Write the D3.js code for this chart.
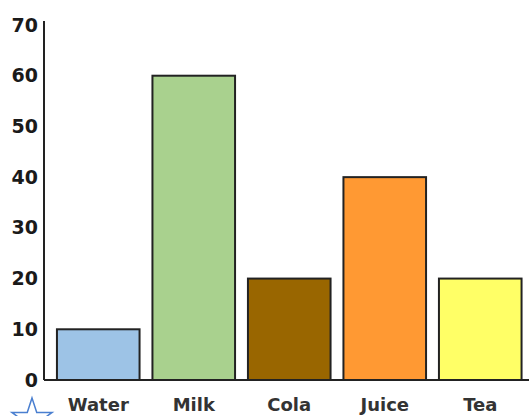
<!DOCTYPE html>
<html>
<head>
<meta charset="utf-8">
<script src="https://cdn.jsdelivr.net/npm/d3@7"></script>
<style>
  body { margin: 0; background: #fff; }
  svg { display: block; }
</style>
</head>
<body>
<svg></svg>
<script>
const drinks = ["Water", "Milk", "Cola", "Juice", "Tea"];
const counts = [10, 60, 20, 40, 20];
const barColors = ["#9dc3e6", "#a9d18e", "#996600", "#ff9933", "#ffff66"];
const yTicks = [0, 10, 20, 30, 40, 50, 60, 70];

const width = 529;
const height = 416;

const svg = d3.select("svg").attr("width", width).attr("height", height);

const x = d3
  .scaleBand()
  .domain(drinks)
  .range([50.5, 528])
  .paddingInner(0.135)
  .paddingOuter(0.0675);

const y = d3.scaleLinear().domain([0, 70]).range([380, 25]);

// bars
svg
  .append("g")
  .selectAll("rect")
  .data(drinks)
  .enter()
  .append("rect")
  .attr("x", (d) => x(d))
  .attr("y", (d, i) => y(counts[i]))
  .attr("width", x.bandwidth())
  .attr("height", (d, i) => y(0) - y(counts[i]))
  .attr("fill", (d, i) => barColors[i])
  .attr("stroke", "#222")
  .attr("stroke-width", 2);

// y axis
const yAxis = svg
  .append("g")
  .attr("transform", "translate(44,0)")
  .call(d3.axisLeft(y).tickValues(yTicks).tickSize(0).tickPadding(6));
yAxis.select(".domain").attr("stroke", "#222").attr("stroke-width", 2).attr("d", `M0,${y(70) - 4}V${y(0)}`);
yAxis
  .selectAll("text")
  .attr("font-family", "'DejaVu Sans', sans-serif")
  .attr("font-weight", "bold")
  .attr("font-size", 19)
  .attr("fill", "#1a1a1a");

// x axis
const xAxis = svg
  .append("g")
  .attr("transform", `translate(0,${y(0)})`)
  .call(d3.axisBottom(x).tickSize(0).tickPadding(18));
xAxis.select(".domain").attr("stroke", "#222").attr("stroke-width", 2).attr("d", `M44,0H${width}`);
xAxis
  .selectAll("text")
  .attr("font-family", "'DejaVu Sans', sans-serif")
  .attr("font-weight", "bold")
  .attr("font-size", 18)
  .attr("fill", "#333");

// little star in the corner
const star = d3.symbol().type(d3.symbolStar).size(500);
svg
  .append("path")
  .attr("d", star())
  .attr("transform", "translate(32,419)")
  .attr("fill", "none")
  .attr("stroke", "#4a7fd0")
  .attr("stroke-width", 1.5);
</script>
</body>
</html>
